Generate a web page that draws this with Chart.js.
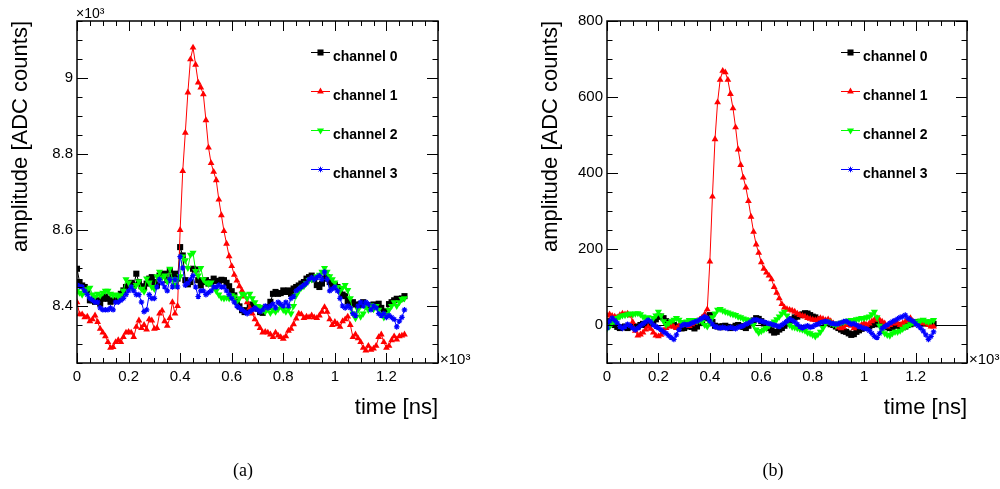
<!DOCTYPE html>
<html>
<head>
<meta charset="utf-8">
<script src="https://cdn.jsdelivr.net/npm/chart.js@4.4.0/dist/chart.umd.min.js"></script>
<style>
html, body { margin: 0; padding: 0; background: #fff; }
#wrap { position: relative; width: 1000px; height: 489px; overflow: hidden; }
canvas { position: absolute; top: 0; }
#cA { left: 0; }
#cB { left: 530px; }
.cap { position: absolute; top: 460px; font-family: "Liberation Serif", serif; font-size: 18px; transform: translateX(-50%); }
</style>
</head>
<body>
<div id="wrap">
  <canvas id="cA" width="500" height="489"></canvas>
  <canvas id="cB" width="470" height="489"></canvas>
  <div class="cap" style="left:243px">(a)</div>
  <div class="cap" style="left:773px">(b)</div>
</div>
<script>
// sample times in ns (10 ns sampling)
const TIME_NS = [
  0, 10, 20, 30, 40, 50, 60, 70, 80, 90,
  100, 110, 120, 130, 140, 150, 160, 170, 180, 190,
  200, 210, 220, 230, 240, 250, 260, 270, 280, 290,
  300, 310, 320, 330, 340, 350, 360, 370, 380, 390,
  400, 410, 420, 430, 440, 450, 460, 470, 480, 490,
  500, 510, 520, 530, 540, 550, 560, 570, 580, 590,
  600, 610, 620, 630, 640, 650, 660, 670, 680, 690,
  700, 710, 720, 730, 740, 750, 760, 770, 780, 790,
  800, 810, 820, 830, 840, 850, 860, 870, 880, 890,
  900, 910, 920, 930, 940, 950, 960, 970, 980, 990,
  1000, 1010, 1020, 1030, 1040, 1050, 1060, 1070, 1080, 1090,
  1100, 1110, 1120, 1130, 1140, 1150, 1160, 1170, 1180, 1190,
  1200, 1210, 1220, 1230, 1240, 1250, 1260, 1270
];

const CHANNELS = ['channel 0', 'channel 1', 'channel 2', 'channel 3'];

// (a) raw amplitude, ADC counts
const CH0_A = [
  8498, 8463, 8454, 8450, 8441, 8415, 8415, 8411, 8415, 8406,
  8419, 8425, 8419, 8411, 8415, 8415, 8419, 8432, 8441, 8450,
  8454, 8461, 8454, 8485, 8463, 8452, 8448, 8459, 8472, 8476,
  8463, 8454, 8480, 8481, 8485, 8468, 8494, 8476, 8485, 8472,
  8555, 8533, 8468, 8457, 8463, 8498, 8496, 8468, 8454, 8463,
  8468, 8459, 8463, 8472, 8466, 8466, 8469, 8468, 8461, 8452,
  8439, 8428, 8411, 8399, 8389, 8384, 8389, 8397, 8404, 8397,
  8393, 8384, 8382, 8393, 8397, 8411, 8432, 8437, 8432, 8434,
  8441, 8437, 8441, 8432, 8446, 8450, 8454, 8459, 8463, 8472,
  8476, 8480, 8470, 8455, 8450, 8459, 8472, 8476, 8463, 8452,
  8455, 8450, 8441, 8430, 8426, 8412, 8408, 8410, 8404, 8400,
  8405, 8410, 8402, 8398, 8402, 8404, 8400, 8406, 8395, 8386,
  8384, 8405, 8410, 8415, 8419, 8418, 8420, 8426
];
const CH1_A = [
  8410, 8378, 8378, 8370, 8372, 8360, 8365, 8375, 8358, 8340,
  8330, 8320, 8305, 8290, 8292, 8305, 8310, 8305, 8318, 8330,
  8332, 8330, 8318, 8345, 8362, 8342, 8350, 8338, 8365, 8362,
  8340, 8342, 8380, 8388, 8360, 8348, 8368, 8410, 8380, 8400,
  8600, 8755, 8856, 8962, 9049, 9080, 9035, 8988, 8975, 8957,
  8889, 8817, 8776, 8753, 8731, 8680, 8639, 8597, 8564, 8531,
  8505, 8482, 8467, 8452, 8440, 8425, 8410, 8395, 8380, 8365,
  8352, 8342, 8330, 8332, 8330, 8325, 8318, 8330, 8322, 8318,
  8314, 8320, 8335, 8340, 8352, 8367, 8380, 8378, 8368, 8372,
  8370, 8375, 8370, 8368, 8375, 8385, 8397, 8385, 8365, 8350,
  8358, 8352, 8345, 8360, 8365, 8372, 8350, 8318, 8325, 8315,
  8305, 8290, 8283, 8295, 8285, 8288, 8295, 8318, 8325, 8305,
  8290, 8295, 8310, 8320, 8312, 8320, 8322, 8325
];
const CH2_A = [
  8440, 8435, 8430, 8438, 8444, 8448, 8430, 8425, 8432, 8428,
  8435, 8440, 8440, 8432, 8428, 8430, 8425, 8428, 8440, 8470,
  8462, 8450, 8445, 8455, 8465, 8445, 8438, 8472, 8462, 8450,
  8445, 8478, 8490, 8475, 8480, 8465, 8498, 8470, 8455, 8470,
  8478, 8530, 8520, 8500, 8535, 8540, 8492, 8480, 8500, 8470,
  8462, 8458, 8462, 8450, 8440, 8430, 8422, 8420, 8422, 8420,
  8428, 8425, 8412, 8420, 8432, 8430, 8420, 8432, 8420, 8410,
  8400, 8398, 8390, 8385, 8392, 8382, 8390, 8385, 8392, 8400,
  8390, 8385, 8392, 8380, 8400, 8428, 8440, 8448, 8452, 8460,
  8468, 8470, 8472, 8478, 8482, 8490, 8500, 8490, 8478, 8470,
  8462, 8450, 8440, 8448, 8455, 8442, 8420, 8380, 8368, 8390,
  8372, 8380, 8398, 8390, 8402, 8392, 8400, 8390, 8378, 8370,
  8378, 8390, 8400, 8410, 8400, 8410, 8418, 8420
];
const CH3_A = [
  8455, 8452, 8450, 8440, 8430, 8420, 8415, 8410, 8410, 8395,
  8390, 8390, 8390, 8395, 8390, 8410, 8410, 8415, 8420, 8430,
  8440, 8450, 8440, 8430, 8430, 8410, 8385, 8390, 8430, 8420,
  8420, 8450, 8470, 8460, 8450, 8440, 8470, 8450, 8470, 8450,
  8530, 8500, 8455, 8460, 8470, 8480, 8450, 8425, 8440, 8440,
  8430, 8435, 8440, 8450, 8450, 8455, 8450, 8450, 8440, 8430,
  8420, 8410, 8400, 8395, 8390, 8385, 8380, 8385, 8390, 8395,
  8390, 8385, 8390, 8400, 8395, 8400, 8405, 8395, 8410, 8405,
  8400, 8410, 8400, 8420, 8425, 8440, 8445, 8450, 8455, 8460,
  8470, 8475, 8470, 8475, 8480, 8470, 8490, 8470, 8440, 8445,
  8450, 8440, 8420, 8400, 8395, 8400, 8395, 8380, 8375, 8400,
  8410, 8400, 8410, 8405, 8390, 8400, 8395, 8380, 8375, 8380,
  8370, 8375, 8370, 8365, 8345, 8360, 8370, 8390
];

// (b) pedestal subtracted, ADC counts
const CH0_B = [
  10, 8, 5, 0, -5, -8, -6, -4, -8, -5,
  -3, -6, -4, 0, 3, 0, 2, 5, 8, 15,
  22, 22, 18, 10, 6, 4, 0, -4, -6, -9,
  -8, -4, 0, -5, -9, -4, 5, 12, 18, 22,
  26, 8, -2, -4, -6, -3, -2, -5, -8, -6,
  -2, 0, -3, -5, -8, -2, 6, 12, 18, 16,
  10, 4, -2, -8, -14, -20, -18, -12, -8, -2,
  4, 10, 15, 20, 22, 26, 28, 31, 30, 26,
  22, 20, 15, 13, 10, 8, 5, 2, 0, -4,
  -8, -12, -16, -18, -22, -26, -24, -18, -14, -10,
  -8, -5, -4, 0, 2, 4, 2, 0, -4, -6,
  -8, -5, -2, 0, -4, -6, -4, 0, 2, 4,
  6, 8, 5, 4, 5, 6, 4, 3
];
const CH1_B = [
  25, 28, 24, 22, 20, 26, 30, 28, 30, 25,
  8, -15, -28, -25, -20, -12, -5, -10, -20, -28,
  -30, -26, -15, -8, -4, 0, -5, -8, -2, 0,
  3, 5, -3, 2, 6, 10, 14, 20, 28, 41,
  167, 338, 489, 586, 645, 669, 665, 645, 608, 570,
  520, 462, 421, 388, 362, 326, 285, 245, 212, 190,
  165, 148, 138, 130, 120, 100, 85, 70, 55, 46,
  42, 40, 38, 35, 30, 26, 24, 22, 18, 16,
  14, 13, 15, 18, 16, 13, 15, 10, 4, 0,
  -6, -9, -6, 0, 9, -2, -9, -5, -4, 0,
  5, 0, 4, 10, 14, 18, 14, 9, 4, -4,
  0, 4, 9, 4, 0, 5, 9, 13, 18, 9,
  5, 4, 9, 5, 4, 0, -4, -4
];
const CH2_B = [
  -9, -4, 5, 10, 18, 22, 25, 26, 28, 30,
  28, 30, 31, 28, 22, 18, 20, 10, 18, 25,
  35, 25, 10, 0, 5, 10, 14, 18, 14, 8,
  4, 9, 13, 10, 13, 10, 12, 8, 0, -4,
  5, 20, 30, 40, 42, 38, 35, 33, 30, 28,
  26, 22, 20, 17, 15, 13, 8, 0, -12, -20,
  -16, -12, -8, -2, 4, 9, 15, 22, 30, 35,
  25, 0, -5, -6, -8, -10, -12, -15, -20, -22,
  -26, -30, -25, -18, -8, 4, 9, 5, 2, 0,
  4, 6, 8, 10, 12, 13, 13, 15, 16, 18,
  18, 20, 22, 28, 35, 20, -2, -15, -22, -26,
  -28, -22, -18, -18, -15, -10, -5, -2, 2, 6,
  9, 9, 12, 14, 10, 8, 10, 13
];
const CH3_B = [
  -8, 10, 18, 12, 5, -4, -9, -4, 2, -2,
  -8, -13, -8, -2, 3, 8, 13, 9, 0, -4,
  -8, -12, -18, -22, -28, -33, -38, -26, -12, -2,
  2, 0, 2, 5, 8, 10, 14, 18, 22, 18,
  10, 2, -4, -6, -8, -6, -8, -9, -6, -8,
  -10, -6, -4, -2, 2, 5, 9, 13, 14, 12,
  10, 8, 6, 4, 2, 0, -2, -4, 0, 5,
  10, 16, 12, 8, 2, -4, -8, -4, -2, -6,
  -4, 0, 2, 6, 8, 10, 8, 5, 4, 2,
  4, 6, 9, 10, 6, 2, 4, 0, -4, -6,
  -9, -10, -15, -22, -30, -33, -22, -9, -4, 0,
  5, 9, 12, 16, 20, 22, 26, 18, 14, 10,
  4, -2, -8, -16, -26, -38, -30, -18
];

const X_TICKS = [0, 200, 400, 600, 800, 1000, 1200];
const Y_TICKS_A = [8400, 8600, 8800, 9000];
const Y_TICKS_B = [0, 200, 400, 600, 800];

const COLORS = ['#000000', '#ff0000', '#00ff00', '#0000ff'];
const MARKERS = [
  { style: 'rect', radius: 4.3, rotation: 0, border: 0 },
  { style: 'triangle', radius: 3.9, rotation: 0, border: 0 },
  { style: 'triangle', radius: 4.1, rotation: 180, border: 0 },
  { style: 'star', radius: 2.8, rotation: 0, border: 1.2 }
];

const FONT = '"Liberation Sans", Arial, Helvetica, sans-serif';
Chart.defaults.font.family = FONT;
Chart.defaults.color = '#000';

function makeDatasets(series) {
  return series.map((vals, i) => ({
    label: CHANNELS[i],
    data: TIME_NS.map((t, k) => ({ x: t, y: vals[k] })),
    borderColor: COLORS[i],
    backgroundColor: COLORS[i],
    borderWidth: 1,
    pointStyle: MARKERS[i].style,
    pointRadius: MARKERS[i].radius,
    pointRotation: MARKERS[i].rotation,
    pointBorderWidth: MARKERS[i].border,
    tension: 0,
    order: 3 - i
  }));
}

// ROOT-like frame with inward ticks on all four sides
const framePlugin = {
  id: 'frame',
  beforeDatasetsDraw(chart, args, opts) {
    if (!opts.zeroLine) return;
    const { ctx, chartArea: a, scales: { y } } = chart;
    const py = Math.round(y.getPixelForValue(0)) + 0.5;
    ctx.save();
    ctx.strokeStyle = '#000';
    ctx.lineWidth = 1;
    ctx.beginPath();
    ctx.moveTo(a.left, py);
    ctx.lineTo(a.right, py);
    ctx.stroke();
    ctx.restore();
  },
  afterDraw(chart, args, opts) {
    const { ctx, chartArea: a, scales: { x, y } } = chart;
    ctx.save();
    ctx.strokeStyle = '#000';
    ctx.lineWidth = 1;
    ctx.beginPath();
    for (let v = x.min; v <= x.max + 1e-6; v += opts.xMinor) {
      const px = Math.round(x.getPixelForValue(v)) + 0.5;
      const len = opts.xMajor.includes(v) || v === x.max ? 10 : 5;
      ctx.moveTo(px, a.bottom); ctx.lineTo(px, a.bottom - len);
      ctx.moveTo(px, a.top); ctx.lineTo(px, a.top + len);
    }
    for (let v = y.min; v <= y.max + 1e-6; v += opts.yMinor) {
      const py = Math.round(y.getPixelForValue(v)) + 0.5;
      const len = opts.yMajor.includes(v) ? 11 : 5.5;
      ctx.moveTo(a.left, py); ctx.lineTo(a.left + len, py);
      ctx.moveTo(a.right, py); ctx.lineTo(a.right - len, py);
    }
    ctx.stroke();
    ctx.lineWidth = 1.5;
    ctx.strokeRect(a.left, a.top, a.right - a.left, a.bottom - a.top);

    // exponent labels
    ctx.fillStyle = '#000';
    ctx.textBaseline = 'alphabetic';
    ctx.textAlign = 'left';
    if (opts.yExp) {
      ctx.font = '14px ' + FONT;
      ctx.fillText('\u00d710\u00b3', a.left - 1, a.top - 3);
    }
    ctx.font = '15px ' + FONT;
    ctx.fillText('\u00d710\u00b3', a.right + 2, a.bottom + 1);
    ctx.restore();
  }
};

// legend: line + marker + bold label, no box
const legendPlugin = {
  id: 'chanLegend',
  afterDraw(chart, args, opts) {
    const ctx = chart.ctx;
    ctx.save();
    chart.data.datasets.forEach((ds, i) => {
      const yRow = opts.top + i * opts.gap;
      ctx.strokeStyle = ds.borderColor;
      ctx.fillStyle = ds.backgroundColor;
      ctx.lineWidth = 1;
      ctx.beginPath();
      ctx.moveTo(opts.x, yRow + 0.5);
      ctx.lineTo(opts.x + 19, yRow + 0.5);
      ctx.stroke();
      Chart.helpers.drawPoint(ctx, {
        pointStyle: ds.pointStyle,
        radius: ds.pointRadius,
        rotation: ds.pointRotation,
        borderWidth: ds.pointBorderWidth
      }, opts.x + 9.5, yRow + 0.5);
      ctx.fillStyle = '#000';
      ctx.font = 'bold 14px ' + FONT;
      ctx.textBaseline = 'middle';
      ctx.textAlign = 'left';
      ctx.fillText(ds.label, opts.x + 22, yRow + 5);
    });
    ctx.restore();
  }
};

function makeChart(canvasId, series, yMin, yMax, yTicks, yLabel, rightPad, yExp) {
  return new Chart(document.getElementById(canvasId), {
    type: 'line',
    data: { datasets: makeDatasets(series) },
    plugins: [framePlugin, legendPlugin],
    options: {
      responsive: false,
      animation: false,
      events: [],
      layout: { padding: { left: 0, top: 21, right: rightPad, bottom: 60 } },
      plugins: {
        legend: { display: false },
        tooltip: { enabled: false },
        frame: { xMajor: X_TICKS, yMajor: yTicks, xMinor: 50, yMinor: 50, zeroLine: !yExp, yExp: yExp },
        chanLegend: { x: 311, top: 52, gap: 39 }
      },
      scales: {
        x: {
          type: 'linear',
          min: 0,
          max: 1400,
          afterBuildTicks: s => { s.ticks = X_TICKS.map(v => ({ value: v })); },
          afterFit: s => { s.height = 66; },
          grid: { display: false, drawTicks: false },
          border: { display: false },
          ticks: {
            callback: v => String(v / 1000),
            font: { size: 15 },
            color: '#000',
            padding: 5,
            maxRotation: 0,
            autoSkip: false
          },
          title: {
            display: true,
            text: 'time [ns]',
            align: 'end',
            color: '#000',
            font: { size: 22 },
            padding: { top: 0, bottom: 8 }
          }
        },
        y: {
          type: 'linear',
          min: yMin,
          max: yMax,
          afterBuildTicks: s => { s.ticks = yTicks.map(v => ({ value: v })); },
          afterFit: s => { s.width = 77; },
          grid: { display: false, drawTicks: false },
          border: { display: false },
          ticks: {
            callback: yLabel,
            font: { size: 15 },
            color: '#000',
            padding: 4
          },
          title: {
            display: true,
            text: 'amplitude [ADC counts]',
            align: 'end',
            color: '#000',
            font: { size: 22 },
            padding: { top: 8, bottom: 0 }
          }
        }
      }
    }
  });
}

makeChart('cA', [CH0_A, CH1_A, CH2_A, CH3_A], 8250, 9150, Y_TICKS_A, v => String(v / 1000), 62, true);
makeChart('cB', [CH0_B, CH1_B, CH2_B, CH3_B], -100, 800, Y_TICKS_B, v => String(v), 33, false);
</script>
</body>
</html>
